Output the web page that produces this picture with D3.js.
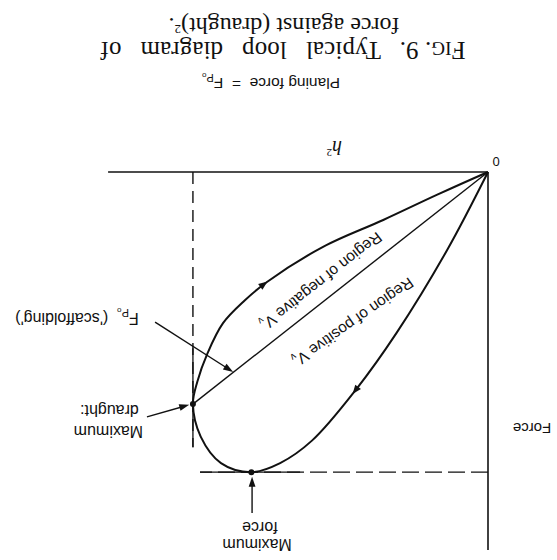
<!DOCTYPE html>
<html>
<head>
<meta charset="utf-8">
<script src="https://cdn.jsdelivr.net/npm/d3@7"></script>
<style>
  html, body { margin: 0; padding: 0; background: #fff; }
  svg { display: block; }
  text { fill: #111; }
</style>
</head>
<body>
<script>
// Typical loop diagram: planing force against (draught)^2 over one cycle.
// Loop points in (h², force) units, starting and ending at the origin.
const loopH2    = [0, 12, 27, 39, 52, 61.5, 70, 79, 85, 87.3, 86, 83, 78.4, 72, 65.4, 48.8, 31, 15, 0];
const loopForce = [0, 20.5, 42.5, 57.5, 71, 77, 79.4, 77, 70, 61.4, 55.5, 48, 40, 34, 29.1, 19.8, 12.7, 6, 0];

// Extremes of the loop
const maxDraught = [87.3, 61.4];   // h², force
const maxForce   = [70, 79.4];     // h², force

// Axis extents
const h2Extent    = [0, 112.4];
const forceExtent = [0, 100];

// Where the direction-of-travel arrows sit on the loop
const flowArrowAt = [[38.8, 58.2], [66.3, 29.4]];

// Labels
const titleLines = ["Typical   loop   diagram   of", "force against (draught)"];
const regionLabels = ["Region of negative ", "Region of positive "];

const W = 557, H = 560;
const svg = d3.select("body").append("svg").attr("width", W).attr("height", H);
svg.append("rect").attr("width", W).attr("height", H).attr("fill", "#fff");

// The whole figure is printed upside down on the page.
const g = svg.append("g").attr("transform", `rotate(180, ${W / 2}, ${H / 2})`);

const x = d3.scaleLinear().domain([0, 100]).range([69, 407]);
const y = d3.scaleLinear().domain([0, 100]).range([388, 10]);

const ink = "#111";
const sans = "'Liberation Sans', Arial, sans-serif";
const serif = "'Liberation Serif', 'Times New Roman', serif";

function arrowHead(sel, tip, dir, len, half) {
  const [tx, ty] = tip, [dx, dy] = dir;
  const nx = -dy, ny = dx;
  const bx = tx - dx * len, by = ty - dy * len;
  sel.append("path")
    .attr("d", `M${tx},${ty}L${bx + nx * half},${by + ny * half}L${bx - nx * half},${by - ny * half}Z`)
    .attr("fill", ink);
}

// Axes: h² along the top edge, force down the side
g.append("line")
  .attr("x1", x(h2Extent[0])).attr("y1", y(0))
  .attr("x2", x(h2Extent[1])).attr("y2", y(0))
  .attr("stroke", ink).attr("stroke-width", 1.5);
g.append("line")
  .attr("x1", x(0)).attr("y1", y(forceExtent[0]))
  .attr("x2", x(0)).attr("y2", y(forceExtent[1]))
  .attr("stroke", ink).attr("stroke-width", 1.6);

// Dashed guides at maximum draught and maximum force
g.append("line")
  .attr("x1", x(maxDraught[0])).attr("y1", y(0))
  .attr("x2", x(maxDraught[0])).attr("y2", y(72.8))
  .attr("stroke", ink).attr("stroke-width", 1.4).attr("stroke-dasharray", "12,7");
g.append("line")
  .attr("x1", x(maxDraught[0])).attr("y1", y(46.6))
  .attr("x2", x(maxDraught[0])).attr("y2", y(72.8))
  .attr("stroke", ink).attr("stroke-width", 1.3);
g.append("line")
  .attr("x1", x(0)).attr("y1", y(maxForce[1]))
  .attr("x2", x(85.2)).attr("y2", y(maxForce[1]))
  .attr("stroke", ink).attr("stroke-width", 1.4).attr("stroke-dasharray", "17,6");
g.append("line")
  .attr("x1", x(55.6)).attr("y1", y(maxForce[1]))
  .attr("x2", x(85.2)).attr("y2", y(maxForce[1]))
  .attr("stroke", ink).attr("stroke-width", 1.3);

// Scaffolding line from the origin to maximum draught
g.append("line")
  .attr("x1", x(0)).attr("y1", y(0))
  .attr("x2", x(maxDraught[0])).attr("y2", y(maxDraught[1]))
  .attr("stroke", ink).attr("stroke-width", 1.4);

// The loop
const loopPts = loopH2.map((h, i) => [h, loopForce[i]]);
const line = d3.line().x(d => x(d[0])).y(d => y(d[1])).curve(d3.curveCatmullRom.alpha(0.5));
const loopPath = g.append("path")
  .attr("d", line(loopPts))
  .attr("fill", "none").attr("stroke", ink).attr("stroke-width", 2);

// Direction-of-travel arrows on the loop
const node = loopPath.node();
const total = node.getTotalLength();
flowArrowAt.forEach(([h, f]) => {
  const px = x(h), py = y(f);
  let best = 0, bestD = Infinity;
  for (let l = 0; l <= total; l += 0.5) {
    const p = node.getPointAtLength(l);
    const d = (p.x - px) ** 2 + (p.y - py) ** 2;
    if (d < bestD) { bestD = d; best = l; }
  }
  const a = node.getPointAtLength(best - 2), b = node.getPointAtLength(best + 2);
  const len = Math.hypot(b.x - a.x, b.y - a.y);
  const tip = node.getPointAtLength(best + 4);
  arrowHead(g, [tip.x, tip.y], [(b.x - a.x) / len, (b.y - a.y) / len], 9, 3.6);
});

// Points at the extremes
[maxDraught, maxForce].forEach(p => {
  g.append("circle").attr("cx", x(p[0])).attr("cy", y(p[1])).attr("r", 3).attr("fill", ink);
});

// Pointer arrows for the annotations
function pointer(from, to) {
  const x1 = x(from[0]), y1 = y(from[1]), x2 = x(to[0]), y2 = y(to[1]);
  const len = Math.hypot(x2 - x1, y2 - y1);
  const d = [(x2 - x1) / len, (y2 - y1) / len];
  g.append("line").attr("x1", x1).attr("y1", y1)
    .attr("x2", x2 - d[0] * 6).attr("y2", y2 - d[1] * 6)
    .attr("stroke", ink).attr("stroke-width", 1.4);
  arrowHead(g, [x2, y2], d, 10, 3.4);
}
pointer([98.5, 39.7], [75.4, 52.9]);
pointer([100.9, 64.8], [88.4, 61.6]);
pointer([69.8, 90.2], [69.8, 80.6]);

// Text helpers
function label(px, py, parts, opts = {}) {
  const t = g.append("text")
    .attr("x", px).attr("y", py)
    .attr("text-anchor", opts.anchor || "middle")
    .attr("font-family", opts.family || sans)
    .attr("font-size", opts.size || 15)
    .style("white-space", "pre");
  if (opts.rotate) t.attr("transform", `rotate(${opts.rotate}, ${px}, ${py})`);
  if (opts.style) t.attr("font-style", opts.style);
  parts.forEach(p => {
    const s = t.append("tspan").text(p.t);
    if (p.dy) s.attr("dy", p.dy);
    if (p.size) s.attr("font-size", p.size);
    if (p.style) s.attr("font-style", p.style);
  });
  return t;
}

// Axis labels
label(x(-2.4), y(-2.6) + 5, [{ t: "0" }], { size: 13 });
label(x(46.7) - 4, y(-6.6) + 6, [{ t: "h", style: "italic" }, { t: "2", size: 11, dy: -8 }], { family: serif, size: 20 });
label(25, 137, [{ t: "Force" }], { size: 15 });

// Region labels along the loop
label(x(50.3), y(29.1) + 5, [{ t: regionLabels[0] }, { t: "V" }, { t: "v", size: 10, dy: 4 }], { rotate: -38, size: 15.5 });
label(x(40.8), y(39.9) + 5, [{ t: regionLabels[1] }, { t: "V" }, { t: "v", size: 10, dy: 4 }], { rotate: -35, size: 15.5 });

// Annotations
label(x(121.6), y(38.6) + 5, [{ t: "F" }, { t: "P", size: 11, dy: 4 }, { t: "o", size: 8, dy: 1 }, { t: "  ('scaffolding')", dy: -5 }], { size: 16 });
label(x(112.3), y(68.5) + 5, [{ t: "Maximum" }], { size: 16 });
label(x(112.0), y(63.0) + 5, [{ t: "draught:" }], { size: 16 });
label(x(68.3), y(98.4) + 5, [{ t: "Maximum" }], { size: 16 });
label(x(67.5), y(93.9) + 5, [{ t: "force" }], { size: 16 });

// Caption
label(286, 482, [{ t: "Planing force  =  F" }, { t: "P", size: 11, dy: 4 }, { t: "o", size: 8, dy: 1 }], { size: 15.5 });
const cap1 = label(274, 518, [
  { t: "F" }, { t: "IG", size: 19 }, { t: ". 9.   " }, { t: titleLines[0] }
], { family: serif, size: 25 });
cap1.attr("textLength", 365).attr("lengthAdjust", "spacing");
label(273, 542, [{ t: titleLines[1] }, { t: "2", size: 13, dy: -7 }, { t: ".", dy: 7 }], { family: serif, size: 24 });
</script>
</body>
</html>
